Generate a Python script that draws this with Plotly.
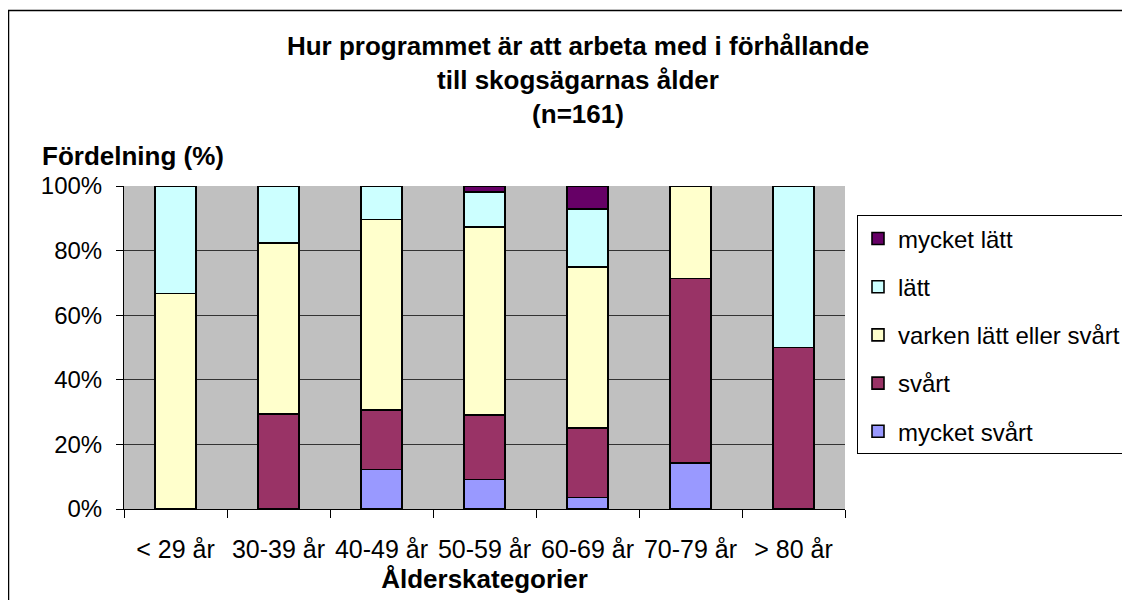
import plotly.graph_objects as go

categories = ["< 29 år", "30-39 år", "40-49 år", "50-59 år", "60-69 år", "70-79 år", "> 80 år"]
mycket_svart = [0, 0, 12.2, 9.1, 3.6, 14.3, 0]
svart = [0, 29.4, 18.4, 20.0, 21.4, 57.1, 50.0]
varken = [66.7, 52.9, 59.0, 58.2, 50.0, 28.6, 0]
latt = [33.3, 17.6, 10.4, 10.9, 17.9, 0, 50.0]
mycket_latt = [0, 0, 0, 1.8, 7.1, 0, 0]

series = [
    ("mycket svårt", mycket_svart, "#9999FF"),
    ("svårt", svart, "#993366"),
    ("varken lätt eller svårt", varken, "#FFFFCC"),
    ("lätt", latt, "#CCFFFF"),
    ("mycket lätt", mycket_latt, "#660066"),
]

FONT = "Arial, Liberation Sans, sans-serif"

fig = go.Figure()
for i, (name, vals, color) in enumerate(series):
    fig.add_trace(go.Bar(
        x=categories, y=vals, name=name, legendgroup=name,
        legendrank=len(series) - i,
        marker=dict(color=color, line=dict(color="black", width=1.6)),
    ))

# geometry in screen pixels (page has an 8px body margin)
OFF = 8
L, R, T, B = 124 - OFF, 845 - OFF, 185.5 - OFF, 509.5 - OFF
def px_x(p):
    return (p - OFF - L) / (R - L)
def px_y(p):
    return (B - (p - OFF)) / (B - T)

fig.update_layout(
    width=1130, height=600,
    margin=dict(l=L, r=1130 - R, t=T, b=600 - B, autoexpand=False),
    barmode="stack", bargap=0.605,
    paper_bgcolor="white", plot_bgcolor="#C0C0C0",
    font=dict(family=FONT, size=24, color="black"),
    title=dict(
        text="Hur programmet är att arbeta med i förhållande<br>till skogsägarnas ålder<br>(n=161)",
        font=dict(family=FONT, size=26, color="black", weight="bold"),
        x=570 / 1130, xanchor="center", xref="container",
        y=1 - 47 / 600, yanchor="top", yref="container",
    ),
    legend=dict(
        x=px_x(857), xanchor="left", y=px_y(215), yanchor="top",
        bgcolor="white", bordercolor="black", borderwidth=1,
        font=dict(family=FONT, size=24, color="black"),
        traceorder="grouped", tracegroupgap=14,
    ),
    xaxis=dict(
        showgrid=False, showline=True, linecolor="black", linewidth=1,
        ticks="outside", tickson="boundaries", ticklen=8, tickcolor="black",
        tickangle=0, automargin=False, ticklabelstandoff=18,
        tickfont=dict(family=FONT, size=25),
        title=dict(text="<b>Ålderskategorier</b>", font=dict(family=FONT, size=26), standoff=7),
    ),
    yaxis=dict(
        range=[0, 100], dtick=20, ticksuffix="%",
        showgrid=True, gridcolor="#333333", gridwidth=1,
        showline=True, linecolor="black", linewidth=1,
        ticks="outside", ticklen=7, tickcolor="black", ticklabelstandoff=9,
        tickfont=dict(family=FONT, size=24), automargin=False,
        zeroline=False,
    ),
    annotations=[dict(
        text="<b>Fördelning (%)</b>", xref="paper", yref="paper",
        x=px_x(40), y=px_y(155), xanchor="left", yanchor="middle",
        showarrow=False, font=dict(family=FONT, size=26, color="black"),
    )],
    shapes=[dict(
        type="rect", xref="paper", yref="paper", layer="above",
        x0=px_x(8.5), x1=px_x(1145), y0=px_y(615), y1=px_y(9.5),
        line=dict(color="black", width=1.5), fillcolor="rgba(0,0,0,0)",
    )],
)

fig.write_html("out.html")
